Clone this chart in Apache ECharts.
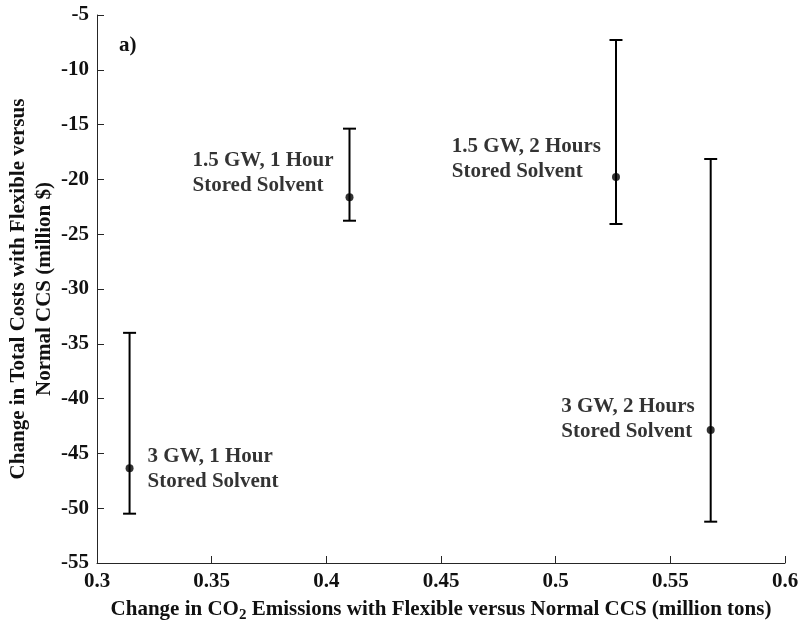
<!DOCTYPE html>
<html>
<head>
<meta charset="utf-8">
<script src="https://cdn.jsdelivr.net/npm/echarts@6/dist/echarts.min.js"></script>
<style>html,body{margin:0;padding:0;background:#fff}#c{width:800px;height:625px}</style>
</head>
<body>
<div id="c"></div>
<script>
const xVals = [0.3142, 0.4101, 0.5263, 0.5676];
const yVals = [-46.36, -21.63, -19.78, -42.86];
const yUpper = [-34.0, -15.37, -7.28, -18.14];
const yLower = [-50.5, -23.77, -24.07, -51.23];
const pointLabels = [
  ['3 GW, 1 Hour', 'Stored Solvent'],
  ['1.5 GW, 1 Hour', 'Stored Solvent'],
  ['1.5 GW, 2 Hours', 'Stored Solvent'],
  ['3 GW, 2 Hours', 'Stored Solvent']
];
const panelLabel = 'a)';
const xTitle = 'Change in CO{sub|2} Emissions with Flexible versus Normal CCS (million tons)';
const yTitle = 'Change in Total Costs with Flexible versus\nNormal CCS (million $)';

const FONT = 'Liberation Serif';
const FS = 21;
const TXT = '#111';
const labelStyles = [
  {position: 'right', distance: 14, offset: [0, 1]},
  {position: 'left', distance: 12, offset: [0, -24]},
  {position: 'left', distance: 11, offset: [0, -18]},
  {position: 'left', distance: 12, offset: [0, -11]}
];

const chart = echarts.init(document.getElementById('c'), null, {renderer: 'canvas'});
const errData = xVals.map((x, i) => [x, yLower[i], yUpper[i]]);
const ptData = xVals.map((x, i) => ({
  value: [x, yVals[i]],
  label: Object.assign({
    show: true,
    color: '#000',
    textBorderWidth: 0,
    fontFamily: FONT, fontWeight: 'bold', fontSize: FS,
    formatter: pointLabels[i].map(s => '{l|' + s + '}').join('\n'),
    rich: {l: {align: 'left', fontFamily: FONT, fontWeight: 'bold', fontSize: FS, lineHeight: 25, color: '#000'}}
  }, labelStyles[i])
}));

chart.setOption({
  animation: false,
  backgroundColor: '#fff',
  grid: {left: 97, right: 15, top: 15, bottom: 62, containLabel: false, outerBoundsMode: 'none'},
  xAxis: {
    type: 'value', min: 0.3, max: 0.6, interval: 0.05,
    axisLine: {show: true, onZero: false, lineStyle: {color: '#262626', width: 1}},
    axisTick: {show: true, inside: true, length: 7, lineStyle: {color: '#262626'}},
    axisLabel: {fontFamily: FONT, fontWeight: 'bold', fontSize: FS, color: TXT, margin: 8},
    splitLine: {show: false},
    name: xTitle, nameLocation: 'middle', nameGap: 33, nameMoveOverlap: false,
    nameTextStyle: {fontFamily: FONT, fontWeight: 'bold', fontSize: FS, color: TXT,
      rich: {sub: {fontFamily: FONT, fontWeight: 'bold', fontSize: 15, color: TXT, padding: [12, 0, 0, 0]}}}
  },
  yAxis: {
    type: 'value', min: -55, max: -5, interval: 5,
    axisLine: {show: true, onZero: false, lineStyle: {color: '#262626', width: 1}},
    axisTick: {show: true, inside: true, length: 7, lineStyle: {color: '#262626'}},
    axisLabel: {fontFamily: FONT, fontWeight: 'bold', fontSize: FS, color: TXT, margin: 8},
    splitLine: {show: false},
    name: yTitle, nameLocation: 'middle', nameGap: 39, nameRotate: 90, nameMoveOverlap: false,
    nameTextStyle: {fontFamily: FONT, fontWeight: 'bold', fontSize: FS, lineHeight: 26, color: TXT}
  },
  graphic: [{
    type: 'text', left: 119, top: 35,
    style: {text: panelLabel, font: 'bold 21px "Liberation Serif"', fill: TXT}
  }],
  series: [
    {
      type: 'custom',
      data: errData,
      z: 2,
      renderItem: function (params, api) {
        const x = api.value(0);
        const lo = api.coord([x, api.value(1)]);
        const hi = api.coord([x, api.value(2)]);
        const hw = 6.5;
        const st = {stroke: '#000', lineWidth: 2};
        return {
          type: 'group',
          children: [
            {type: 'line', shape: {x1: lo[0], y1: lo[1], x2: hi[0], y2: hi[1]}, style: st},
            {type: 'line', shape: {x1: lo[0] - hw, y1: lo[1], x2: lo[0] + hw, y2: lo[1]}, style: st},
            {type: 'line', shape: {x1: hi[0] - hw, y1: hi[1], x2: hi[0] + hw, y2: hi[1]}, style: st}
          ]
        };
      }
    },
    {
      type: 'scatter',
      data: ptData,
      symbol: 'circle', symbolSize: 8, z: 3,
      itemStyle: {color: '#000'},
      emphasis: {disabled: true}
    }
  ]
});
</script>
</body>
</html>
